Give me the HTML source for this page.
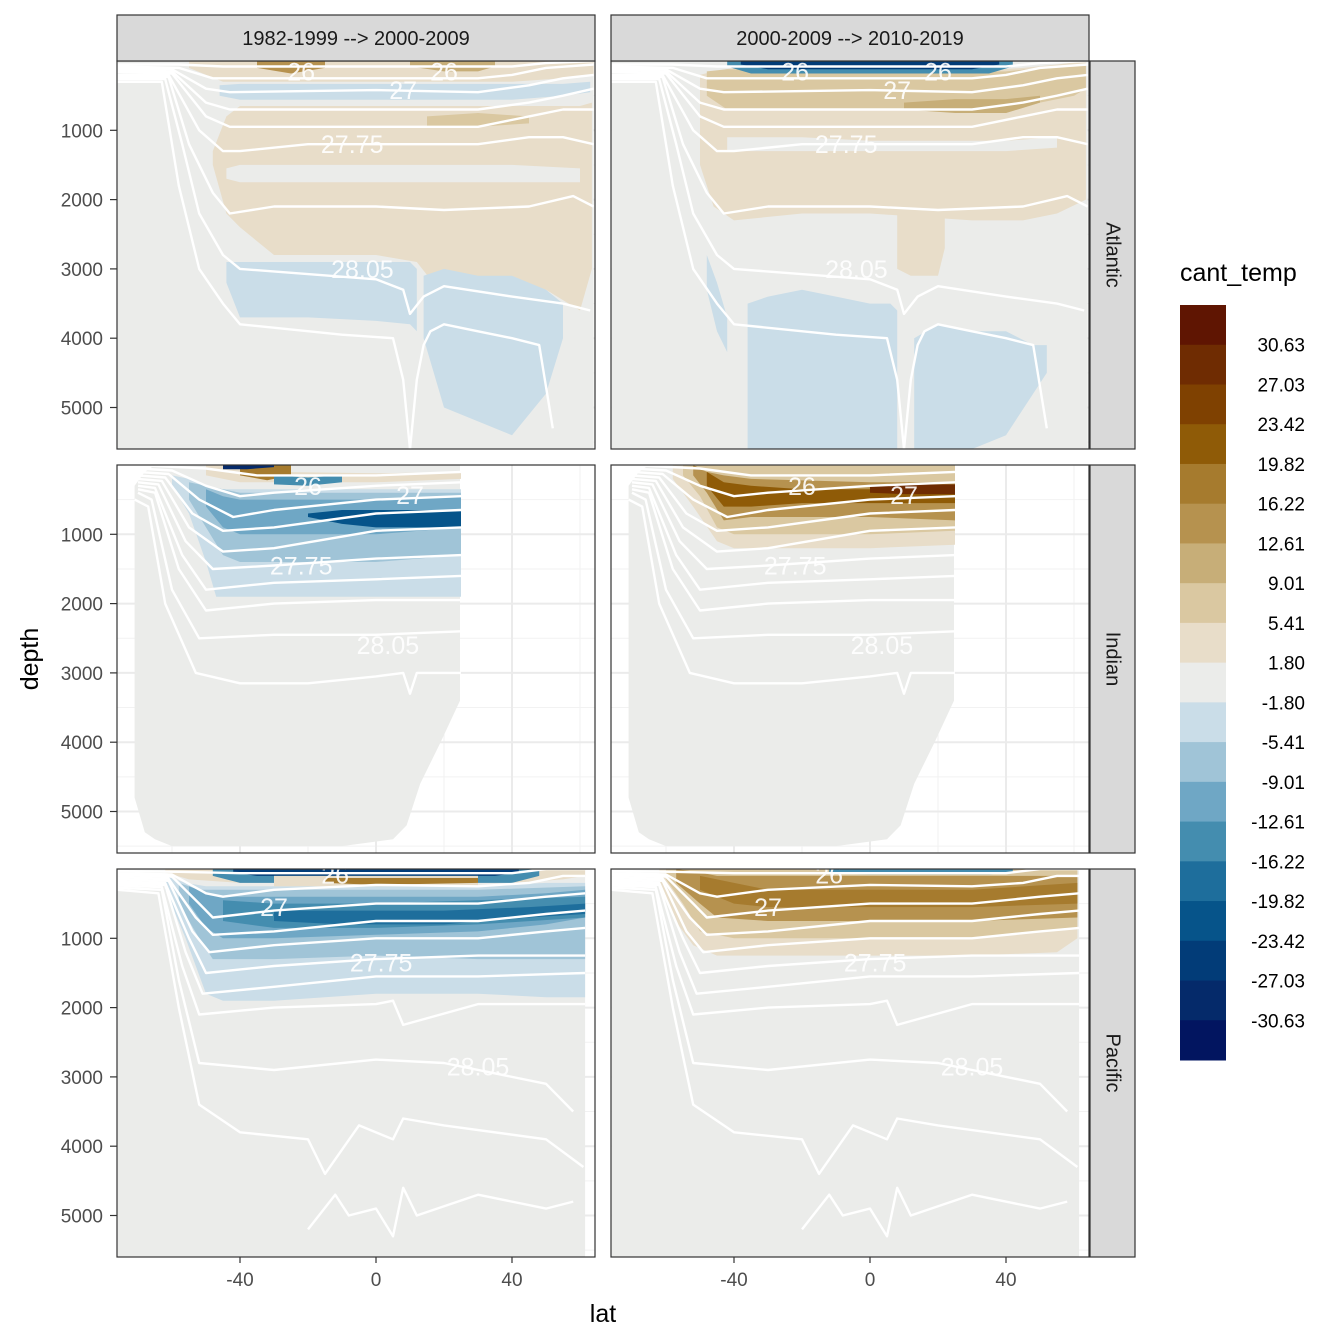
<!DOCTYPE html>
<html><head><meta charset="utf-8">
<style>
html,body{margin:0;padding:0;background:#fff;}
svg{display:block;font-family:"Liberation Sans",sans-serif;}
</style></head>
<body>
<svg id="chart" width="1344" height="1344" viewBox="0 0 1344 1344" xmlns="http://www.w3.org/2000/svg"></svg>
<script>
// ---- data ----
const colorBreaks = ["30.63","27.03","23.42","19.82","16.22","12.61","9.01","5.41","1.80","-1.80","-5.41","-9.01","-12.61","-16.22","-19.82","-23.42","-27.03","-30.63"];
const palette = ["#5f1502","#6f2c02","#7f4101","#8f5b07","#a67b2e","#b6924f","#c7ae78","#dac8a1","#e8ddc9","#ebecea","#cadde8","#a0c4d7","#6fa7c5","#448daf","#1e6e9c","#06548a","#023c78","#052a6a","#021560"];
const colLabels = ["1982-1999 --> 2000-2009","2000-2009 --> 2010-2019"];
const rowLabels = ["Atlantic","Indian","Pacific"];
const latTicks = [-40,0,40];
const depthTicks = [1000,2000,3000,4000,5000];

const atlanticLeft = [
 {c:9,lat:[-76,64],top:[0,0],bot:[5600,5600]},
 {c:8,lat:[-55,-45,40,55,64],top:[0,0,0,0,0],bot:[100,300,300,250,200]},
 {c:5,lat:[-35,-25,-15],top:[0,0,0],bot:[100,180,100]},
 {c:6,lat:[10,20,30,35],top:[0,0,0,0],bot:[80,150,150,80]},
 {c:10,lat:[-46,-40,0,40,55,63],top:[350,330,330,330,330,300],bot:[500,560,560,560,500,450]},
 {c:8,lat:[-48,-44,-40,-30,0,12,20,50,60,63.5],top:[1300,800,650,650,650,650,650,650,650,600],bot:[1500,2200,2400,2800,2800,2900,3400,3300,3600,3000]},
 {c:7,lat:[15,30,45],top:[800,750,800],bot:[950,950,900]},
 {c:9,lat:[-44,-40,0,40,60],top:[1550,1500,1500,1500,1550],bot:[1700,1750,1750,1750,1750]},
 {c:10,lat:[-44,-40,-20,0,10,12],top:[2900,2900,2900,2900,2900,3000],bot:[3200,3700,3700,3750,3800,3900]},
 {c:10,lat:[14,20,30,40,50,55],top:[3100,3000,3100,3100,3300,3500],bot:[4000,5000,5200,5400,4800,4000]}
];
const atlanticRight = [
 {c:9,lat:[-76,64],top:[0,0],bot:[5600,5600]},
 {c:8,lat:[-50,-46,-40,-20,0,30,45,55,63.5],top:[200,150,100,150,150,150,100,50,0],bot:[1500,2100,2300,2200,2200,2300,2300,2200,2000]},
 {c:7,lat:[-48,-42,-20,0,20,40,50,60,63.5],top:[150,120,150,150,150,150,100,50,50],bot:[500,700,700,700,700,750,600,500,400]},
 {c:6,lat:[10,25,40,50],top:[600,550,550,500],bot:[700,750,750,600]},
 {c:9,lat:[-42,-20,0,40,55],top:[1100,1100,1150,1150,1100],bot:[1300,1300,1300,1300,1250]},
 {c:8,lat:[8,12,20,22],top:[2200,2200,2200,2200],bot:[3000,3100,3100,2700]},
 {c:13,lat:[-42,-35,35,42],top:[0,0,0,0],bot:[80,180,180,80]},
 {c:16,lat:[-38,-30,30,38],top:[0,0,0,0],bot:[50,120,120,50]},
 {c:10,lat:[-48,-45,-42],top:[2800,3200,3700],bot:[3300,3900,4200]},
 {c:10,lat:[-36,-30,-20,-10,0,6,8],top:[3500,3400,3300,3400,3500,3500,3600],bot:[5600,5600,5600,5600,5600,5600,5600]},
 {c:10,lat:[13,20,30,40,48,52],top:[4000,3800,3900,3900,4100,4100],bot:[5600,5600,5600,5400,4800,4500]}
];
const indianBase = {c:9,lat:[-71,-68,-65,-60,-40,-10,5,9,13,19,24.7],top:[300,100,0,0,0,0,0,0,0,0,0],bot:[4800,5300,5400,5500,5500,5500,5400,5200,4600,4000,3400]};
const indianLeft = [
 indianBase,
 {c:8,lat:[-50,-40,-30,0,25],top:[0,0,100,120,100],bot:[150,250,250,250,200]},
 {c:4,lat:[-40,-32,-25],top:[0,0,0],bot:[150,220,150]},
 {c:17,lat:[-45,-38,-30],top:[0,0,0],bot:[60,60,30]},
 {c:10,lat:[-60,-55,-50,-47,-40,0,25],top:[150,200,300,350,350,350,350],bot:[300,700,1400,1900,1900,1900,1900]},
 {c:11,lat:[-55,-50,-45,-40,0,25],top:[250,300,350,400,400,400],bot:[500,900,1300,1400,1400,1300]},
 {c:12,lat:[-50,-45,-40,0,25],top:[350,450,500,500,450],bot:[600,900,1000,1000,900]},
 {c:15,lat:[-20,-10,0,25],top:[700,650,650,650],bot:[750,850,900,900]},
 {c:13,lat:[-30,-20,-10],top:[150,180,150],bot:[280,300,250]}
];
const indianRight = [
 indianBase,
 {c:8,lat:[-58,-52,-45,-40,0,25],top:[0,0,0,0,0,0],bot:[200,600,1100,1200,1200,1150]},
 {c:7,lat:[-55,-50,-45,-40,0,25],top:[0,0,0,0,0,0],bot:[150,450,900,1000,1000,950]},
 {c:5,lat:[-52,-48,-43,-35,0,25],top:[0,100,150,200,250,250],bot:[150,400,800,750,750,800]},
 {c:3,lat:[-48,-43,-35,-20,0,25],top:[100,250,300,350,350,300],bot:[300,600,600,550,550,550]},
 {c:1,lat:[0,10,25],top:[300,280,280],bot:[400,420,420]}
];
const pacificBase = {c:9,lat:[-76,-60,50,61.5],top:[0,0,0,0],bot:[5600,5600,5600,5600]};
const pacificLeft = [
 pacificBase,
 {c:8,lat:[-62,-55,-40,40,55,61.5],top:[0,0,0,0,0,0],bot:[50,150,200,200,150,100]},
 {c:10,lat:[-62,-56,-50,-45,-30,0,30,50,61.5],top:[100,200,250,250,250,250,250,200,200],bot:[300,1000,1800,1900,1900,1800,1800,1850,1850]},
 {c:11,lat:[-58,-52,-48,-30,0,30,61.5],top:[200,300,300,300,300,300,250],bot:[500,1000,1300,1300,1250,1300,1300]},
 {c:12,lat:[-55,-50,-45,-30,0,30,50,61.5],top:[250,350,400,400,400,400,350,300],bot:[500,850,1000,1000,950,900,800,700]},
 {c:13,lat:[-45,-30,0,30,61.5],top:[450,500,500,450,400],bot:[750,850,850,800,700]},
 {c:14,lat:[-30,-10,20,45,61.5],top:[600,600,600,550,500],bot:[750,800,800,700,650]},
 {c:13,lat:[-48,-40,40,48],top:[0,0,0,0],bot:[100,200,200,100]},
 {c:16,lat:[-42,-35,35,42],top:[0,0,0,0],bot:[50,100,100,50]},
 {c:8,lat:[-30,0,30],top:[100,100,100],bot:[250,250,250]},
 {c:4,lat:[-15,0,30],top:[130,130,130],bot:[200,230,200]}
];
const pacificRight = [
 pacificBase,
 {c:8,lat:[-62,-58,-52,-45,-30,0,30,55,61],top:[0,0,0,0,0,0,0,0,0],bot:[200,700,1100,1250,1250,1250,1250,1200,1000]},
 {c:7,lat:[-60,-55,-50,-40,0,30,61],top:[0,0,0,0,0,0,0],bot:[150,500,900,1000,1000,1000,850]},
 {c:5,lat:[-57,-50,-45,-30,0,30,61],top:[0,50,100,100,100,100,100],bot:[200,500,700,750,750,750,700]},
 {c:4,lat:[-50,-40,-30,0,30,61],top:[100,200,300,300,300,200],bot:[300,500,550,550,550,500]},
 {c:13,lat:[-12,0,35,42],top:[0,0,0,0],bot:[60,80,80,40]}
];

const atlanticContours = [
 {lat:[-76,-58,-45,40,50,64],d:[50,50,80,80,30,0]},
 {lat:[-76,-58,-48,-40,30,40,50,64],d:[80,100,250,250,250,200,100,50]},
 {lat:[-76,-60,-50,-43,0,30,45,55,64],d:[100,120,400,450,420,450,350,250,200]},
 {lat:[-76,-60,-50,-43,0,30,45,55,64],d:[130,150,600,700,700,700,600,500,400]},
 {lat:[-76,-60,-50,-43,0,30,45,55,64],d:[160,180,800,950,950,950,800,700,700]},
 {lat:[-76,-61,-52,-45,-40,-20,0,30,45,55,64],d:[200,200,1000,1300,1300,1200,1200,1200,1100,1100,1200]},
 {lat:[-76,-61,-55,-48,-43,-30,0,20,45,58,64],d:[230,230,1200,1900,2200,2100,2100,2150,2100,1950,2100]},
 {lat:[-76,-62,-57,-52,-45,-40,0,8,10,14,20,40,55,63],d:[260,260,1200,2200,2800,3000,3150,3300,3650,3400,3250,3400,3500,3600]},
 {lat:[-76,-63,-58,-52,-45,-40,-10,5,8,10,12,14,16,20,30,40,48,52],d:[300,300,1800,3000,3500,3800,3950,4000,4600,5600,4600,4100,3900,3800,3900,4000,4100,5300]}
];
const indianContours = [
 {lat:[-70,-50,-35,0,25],d:[0,50,150,150,100]},
 {lat:[-70,-60,-50,-40,-30,0,25],d:[50,80,300,450,400,300,250]},
 {lat:[-70,-61,-52,-42,-30,0,25],d:[100,130,500,750,650,500,450]},
 {lat:[-70,-62,-54,-45,-30,0,25],d:[150,180,700,950,900,700,650]},
 {lat:[-70,-63,-55,-45,-30,0,25],d:[200,230,900,1250,1200,950,900]},
 {lat:[-70,-64,-56,-48,-30,0,25],d:[250,280,1100,1500,1450,1350,1300]},
 {lat:[-70,-65,-57,-50,-30,0,25],d:[300,330,1300,1800,1700,1650,1600]},
 {lat:[-70,-65,-58,-50,-30,0,25],d:[350,400,1500,2100,2000,1950,1950]},
 {lat:[-70,-66,-60,-52,-30,0,25],d:[400,500,1800,2500,2450,2450,2400]},
 {lat:[-71,-67,-62,-53,-40,-20,0,8,10,12,25],d:[500,600,2000,3000,3150,3150,3050,3000,3300,3000,3000]}
];
const pacificContours = [
 {lat:[-76,-58,-40,40,50,61.5],d:[30,40,60,60,0,0]},
 {lat:[-76,-60,-50,-45,-30,0,30,45,55,61.5],d:[60,80,350,400,300,230,250,200,100,100]},
 {lat:[-76,-60,-52,-48,-30,0,30,50,61.5],d:[90,110,500,700,600,500,500,400,350]},
 {lat:[-76,-61,-53,-48,-30,0,30,50,61.5],d:[120,140,700,950,900,750,750,650,600]},
 {lat:[-76,-61,-54,-49,-30,0,30,50,61.5],d:[150,170,900,1200,1100,1000,1000,900,850]},
 {lat:[-76,-62,-55,-50,-30,0,30,61.5],d:[180,200,1000,1500,1400,1300,1250,1250]},
 {lat:[-76,-62,-56,-51,-30,0,30,61.5],d:[210,230,1200,1800,1700,1550,1550,1500]},
 {lat:[-76,-63,-57,-52,-30,0,5,8,30,61.5],d:[240,260,1400,2100,2000,1950,1900,2250,1950,1950]},
 {lat:[-76,-63,-58,-52,-30,0,20,50,58],d:[270,300,1600,2800,2900,2750,2800,3100,3500]},
 {lat:[-76,-64,-58,-52,-40,-20,-15,-5,5,8,20,50,61],d:[300,350,2000,3400,3800,3900,4400,3700,3900,3600,3700,3900,4300]},
 {lat:[-20,-12,-8,0,5,8,12,30,50,58],d:[5200,4700,5000,4900,5300,4600,5000,4700,4900,4800]}
];
const atlanticLabels = [{t:"26",lat:-22,d:150},{t:"26",lat:20,d:150},{t:"27",lat:8,d:420},{t:"27.75",lat:-7,d:1200},{t:"28.05",lat:-4,d:3000}];
const indianLabels = [{t:"26",lat:-20,d:300},{t:"27",lat:10,d:430},{t:"27.75",lat:-22,d:1450},{t:"28.05",lat:3.5,d:2600}];
const pacificLabels = [{t:"26",lat:-12,d:80},{t:"27",lat:-30,d:550},{t:"27.75",lat:1.5,d:1350},{t:"28.05",lat:30,d:2850}];

const panels = [
 [atlanticLeft,atlanticRight,atlanticContours,atlanticLabels],
 [indianLeft,indianRight,indianContours,indianLabels],
 [pacificLeft,pacificRight,pacificContours,pacificLabels]
];

// ---- layout ----
const NS="http://www.w3.org/2000/svg";
const svg=document.getElementById('chart');
const colX=[117,611], PW=478;
const rowY=[61,465,869], PH=388;
function xs(col,lat){return colX[col]+259+lat*3.4;}
function ys(row,d){return rowY[row]+d*0.0693;}
function mk(tag,attrs,parent){const e=document.createElementNS(NS,tag);for(const k in attrs)e.setAttribute(k,attrs[k]);(parent||svg).appendChild(e);return e;}

for(let r=0;r<3;r++){
 for(let c=0;c<2;c++){
  const g=mk('g',{'clip-path':'url(#clip'+r+c+')'});
  
  
  const cp=mk('clipPath',{id:'clip'+r+c});
  mk('rect',{x:colX[c],y:rowY[r],width:PW,height:PH},cp);
  mk('rect',{x:colX[c],y:rowY[r],width:PW,height:PH,fill:'#fff'},g);
  [-60,-20,20,60].forEach(l=>mk('line',{x1:xs(c,l),x2:xs(c,l),y1:rowY[r],y2:rowY[r]+PH,stroke:'#f2f2f2','stroke-width':1},g));
  [500,1500,2500,3500,4500,5500].forEach(d=>mk('line',{x1:colX[c],x2:colX[c]+PW,y1:ys(r,d),y2:ys(r,d),stroke:'#f2f2f2','stroke-width':1},g));
  latTicks.forEach(l=>mk('line',{x1:xs(c,l),x2:xs(c,l),y1:rowY[r],y2:rowY[r]+PH,stroke:'#ebebeb','stroke-width':2},g));
  depthTicks.forEach(d=>mk('line',{x1:colX[c],x2:colX[c]+PW,y1:ys(r,d),y2:ys(r,d),stroke:'#ebebeb','stroke-width':2},g));
  panels[r][c].forEach((L,i)=>{
   let pts=L.lat.map((l,k)=>xs(c,l).toFixed(1)+','+ys(r,L.top[k]).toFixed(1));
   for(let k=L.lat.length-1;k>=0;k--)pts.push(xs(c,L.lat[k]).toFixed(1)+','+ys(r,L.bot[k]).toFixed(1));
   const p=mk('polygon',{points:pts.join(' '),fill:palette[L.c]},g);
   
   
  });
  panels[r][2].forEach(C=>{
   const p=mk('polyline',{points:C.lat.map((l,k)=>xs(c,l).toFixed(1)+','+ys(r,C.d[k]).toFixed(1)).join(' '),fill:'none',stroke:'#fff','stroke-width':2.4,'stroke-linejoin':'round'},g);
   
   
  });
  panels[r][3].forEach(Lb=>{
   const t=mk('text',{x:xs(c,Lb.lat),y:ys(r,Lb.d)+9,'text-anchor':'middle','font-size':25,fill:'#fff','fill-opacity':0.9},g);
   t.textContent=Lb.t;
   
   
  });
  const b=mk('rect',{x:colX[c],y:rowY[r],width:PW,height:PH,fill:'none',stroke:'#333','stroke-width':1.2});
  
  
 }
 const s=mk('rect',{x:1090,y:rowY[r],width:45,height:PH,fill:'#d9d9d9',stroke:'#333','stroke-width':1.2});
 
 
 const st=mk('text',{x:1112,y:rowY[r]+PH/2,'font-size':20,fill:'#1a1a1a','text-anchor':'middle',transform:'rotate(90 1112 '+(rowY[r]+PH/2)+')','dominant-baseline':'middle'});
 st.textContent=rowLabels[r];
 
 
 depthTicks.forEach(d=>{
  mk('line',{x1:110,x2:117,y1:ys(r,d),y2:ys(r,d),stroke:'#333','stroke-width':1.2});
  const t=mk('text',{x:103,y:ys(r,d)+7,'font-size':19,fill:'#4d4d4d','text-anchor':'end'});
  t.textContent=d;
  
  
 });
}
for(let c=0;c<2;c++){
 const s=mk('rect',{x:colX[c],y:15,width:PW,height:46,fill:'#d9d9d9',stroke:'#333','stroke-width':1.2});
 
 
 const t=mk('text',{x:colX[c]+PW/2,y:45,'font-size':20,fill:'#1a1a1a','text-anchor':'middle'});
 t.textContent=colLabels[c];
 
 
 latTicks.forEach(l=>{
  mk('line',{x1:xs(c,l),x2:xs(c,l),y1:1257,y2:1263,stroke:'#333','stroke-width':1.2});
  const t2=mk('text',{x:xs(c,l),y:1286,'font-size':19,fill:'#4d4d4d','text-anchor':'middle'});
  t2.textContent=l;
  
  
 });
}
let t=mk('text',{x:603,y:1322,'font-size':25,fill:'#000','text-anchor':'middle'});t.textContent='lat';


t=mk('text',{x:38,y:659,'font-size':25,fill:'#000','text-anchor':'middle',transform:'rotate(-90 38 659)'});t.textContent='depth';


t=mk('text',{x:1180,y:281,'font-size':25,fill:'#000'});t.textContent='cant_temp';


const bh=(1060-305)/palette.length;
palette.forEach((col,i)=>{
 const r=mk('rect',{x:1180,y:305+i*bh,width:46,height:bh+0.5,fill:col});
 
 
});
colorBreaks.forEach((lab,i)=>{
 const tt=mk('text',{x:1305,y:305+(i+1)*bh+7,'font-size':19,fill:'#000','text-anchor':'end'});
 tt.textContent=lab;
 
 
});
</script>
</body></html>
